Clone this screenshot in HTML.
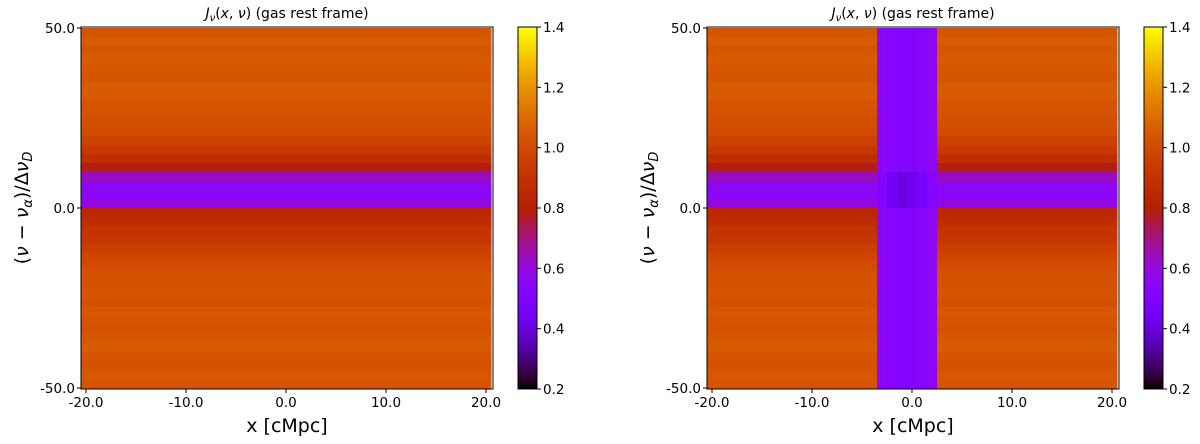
<!DOCTYPE html>
<html><head><meta charset="utf-8">
<style>
html,body{margin:0;padding:0;background:#fff;}
svg{display:block;font-family:"DejaVu Sans","Liberation Sans",sans-serif;}
</style></head>
<body>
<svg id="fig" width="1200" height="444" viewBox="0 0 1200 444">
<defs>
<linearGradient id="cbgrad" x1="0" y1="1" x2="0" y2="0"></linearGradient>
</defs>
</svg>
<script>
// ---- data ----
const nuCenters = [48.75,46.25,43.75,41.25,38.75,36.25,33.75,31.25,28.75,26.25,23.75,21.25,18.75,16.25,13.75,11.25,8.75,6.25,3.75,1.25,-1.25,-3.75,-6.25,-8.75,-11.25,-13.75,-16.25,-18.75,-21.25,-23.75,-26.25,-28.75,-31.25,-33.75,-36.25,-38.75,-41.25,-43.75,-46.25,-48.75];
const rowValues = [1.03,1.05,1.03,1.05,1.04,1.03,1.05,1.05,1.03,1.02,1.01,1.0,0.97,0.93,0.88,0.78,0.64,0.56,0.55,0.6,0.84,0.87,0.9,0.92,0.95,0.98,1.0,1.02,1.02,1.03,1.02,1.04,1.03,1.02,1.04,1.05,1.03,1.02,1.04,1.03];
const xCenters = [-20,-19,-18,-17,-16,-15,-14,-13,-12,-11,-10,-9,-8,-7,-6,-5,-4,-3,-2,-1,0,1,2,3,4,5,6,7,8,9,10,11,12,13,14,15,16,17,18,19,20];
// right panel: column band values (null = no band)
const colBand = [null,null,null,null,null,null,null,null,null,null,null,null,null,null,null,null,null,0.56,0.53,0.52,0.52,0.53,0.56,null,null,null,null,null,null,null,null,null,null,null,null,null,null,null,null,null,null];
const coreDarken = [0,0,0,0,0,0,0,0,0,0,0,0,0,0,0,0,0,0.04,0.09,0.11,0.09,0.06,0.03,0,0,0,0,0,0,0,0,0,0,0,0,0,0,0,0,0,0];
const xTicks = [-20,-10,0,10,20];
const xTickLabels = ["-20.0","-10.0","0.0","10.0","20.0"];
const yTicks = [50,0,-50];
const yTickLabels = ["50.0","0.0","-50.0"];
const cbTicks = [0.2,0.4,0.6,0.8,1.0,1.2,1.4];
const cbTickLabels = ["0.2","0.4","0.6","0.8","1.0","1.2","1.4"];

const NS="http://www.w3.org/2000/svg";
const svg=document.getElementById('fig');
function mk(tag,attrs,parent){const e=document.createElementNS(NS,tag);for(const k in attrs)e.setAttribute(k,attrs[k]);(parent||svg).appendChild(e);return e;}
function cmap(v){let t=(v-0.2)/1.2;t=Math.max(0,Math.min(1,t));
 const r=Math.sqrt(t),g=t*t*t,b=Math.max(0,Math.sin(2*Math.PI*t));
 return `rgb(${Math.round(r*255)},${Math.round(g*255)},${Math.round(b*255)})`;}

const grad=document.getElementById('cbgrad');
for(let i=0;i<=40;i++){const s=document.createElementNS(NS,'stop');s.setAttribute('offset',(i/40));s.setAttribute('stop-color',cmap(0.2+1.2*i/40));grad.appendChild(s);}

function panel(ox,name,withBand){
 const L=ox+81,R=ox+493,T=27,B=389;
 const xs=v=>L+(v+20.5)*(R-L)/41.2;
 const ys=v=>T+1+(50-v)*3.6;
 const g=mk('g',{});
 
 
 const hm=mk('g',{'shape-rendering':'crispEdges'},g);
 
 
 for(let i=0;i<nuCenters.length;i++){
  const y0=Math.max(T,ys(nuCenters[i]+1.25)), y1=Math.min(B,ys(nuCenters[i]-1.25));
  for(let j=0;j<xCenters.length;j++){
   let v=rowValues[i];
   if(withBand && colBand[j]!==null){v=Math.min(v,colBand[j]); if(rowValues[i]<0.7) v-=coreDarken[j];}
   const x0=Math.max(L,xs(xCenters[j]-0.5)), x1=Math.min(R,xs(xCenters[j]+0.5));
   const c=mk('rect',{x:x0,y:y0,width:x1-x0+0.6,height:y1-y0+0.6,fill:cmap(v)},hm);
   
   
  }
 }
 const fr=mk('rect',{x:L,y:T,width:R-L,height:B-T,fill:'none',stroke:'#000','stroke-width':1},g);
 
 
 xTicks.forEach((t,k)=>{const x=xs(t);
  mk('line',{x1:x,x2:x,y1:B,y2:B+4,stroke:'#000'},g);
  const tx=mk('text',{x:x,y:B+18,'font-size':13.5,'text-anchor':'middle'},g);tx.textContent=xTickLabels[k];
  
  });
 yTicks.forEach((t,k)=>{const y=ys(t);
  mk('line',{x1:L-4,x2:L,y1:y,y2:y,stroke:'#000'},g);
  const tx=mk('text',{x:L-6,y:y+5,'font-size':13.5,'text-anchor':'end'},g);tx.textContent=yTickLabels[k];
  
  });
 const title=mk('text',{x:(L+R)/2,y:18,'font-size':14,'text-anchor':'middle'},g);
 title.innerHTML='<tspan font-style="italic">J</tspan><tspan font-size="10" dy="3" font-style="italic">ν</tspan><tspan dy="-3">(</tspan><tspan font-style="italic">x</tspan>, <tspan font-style="italic">ν</tspan>)  (gas rest frame)';
 
 
 const xl=mk('text',{x:(L+R)/2,y:432,'font-size':19,'text-anchor':'middle'},g);xl.textContent='x [cMpc]';
 
 
 const yl=mk('text',{x:0,y:0,'font-size':19,'text-anchor':'middle',transform:`translate(${ox+28},208) rotate(-90)`},g);
 yl.innerHTML='(<tspan font-style="italic">ν</tspan> − <tspan font-style="italic">ν</tspan><tspan font-size="13" dy="4" font-style="italic">α</tspan><tspan dy="-4">)/Δ</tspan><tspan font-style="italic">ν</tspan><tspan font-size="13" dy="4" font-style="italic">D</tspan>';
 
 
 const cL=ox+518,cR=ox+537;
 const cb=mk('rect',{x:cL,y:T,width:cR-cL,height:B-T,fill:'url(#cbgrad)',stroke:'#000','stroke-width':1},g);
 
 
 const cy=v=>B-(v-0.2)/1.2*(B-T);
 cbTicks.forEach((t,k)=>{const y=cy(t);
  mk('line',{x1:cR,x2:cR+4,y1:y,y2:y,stroke:'#000'},g);
  const tx=mk('text',{x:cR+6,y:y+5,'font-size':13.5},g);tx.textContent=cbTickLabels[k];
  
  });
}
panel(0,'left-panel',false);
panel(626,'right-panel',true);
</script>
</body></html>
